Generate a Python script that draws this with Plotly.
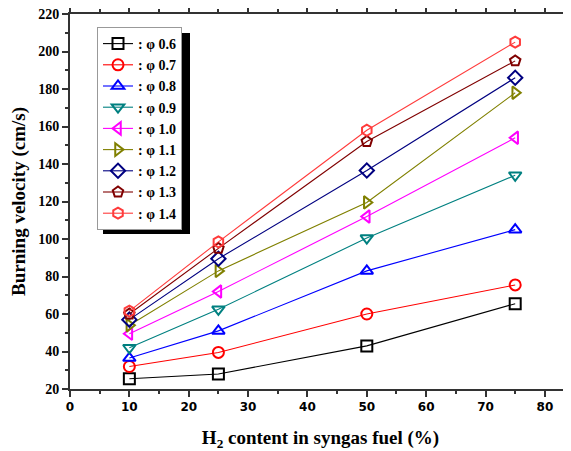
import plotly.graph_objects as go

x_vals = [10, 25, 50, 75]
phi_labels = ["0.6", "0.7", "0.8", "0.9", "1.0", "1.1", "1.2", "1.3", "1.4"]
v06 = [25.5, 28, 43, 65.5]
v07 = [32, 39.5, 60, 75.5]
v08 = [36.5, 51, 83, 105]
v09 = [42, 62.5, 100.5, 134]
v10 = [49.5, 72, 112, 154]
v11 = [54, 83, 119.5, 178]
v12 = [57, 89.5, 136.5, 186]
v13 = [60, 95, 152, 195]
v14 = [61.5, 98.5, 158, 205]
series = [v06, v07, v08, v09, v10, v11, v12, v13, v14]

colors = ["#000000", "#FF0000", "#0000FF", "#008080", "#FF00FF", "#808000", "#000080", "#800000", "#FF3B3B"]
symbols = ["square-open", "circle-open", "triangle-up-open", "triangle-down-open",
           "triangle-left-open", "triangle-right-open", "diamond-open", "pentagon-open", "hexagon-open"]

serif = "Liberation Serif, Times New Roman, serif"

fig = go.Figure()
for lab, ys, c, s in zip(phi_labels, series, colors, symbols):
    fig.add_trace(go.Scatter(
        x=x_vals, y=ys, mode="lines+markers", name=f"<b>: \u03c6 {lab}</b>",
        line=dict(color=c, width=1.1),
        marker=dict(symbol=s, size=11, color=c, line=dict(color=c, width=2)),
    ))

# page has an 8px body margin; figure is 563x443, plot area l=62, t=6, 501x375
def px_x(p):
    return (p - 62) / 501.0

def px_y(p):
    return (381 - p) / 375.0

# legend shadow
fig.add_shape(type="rect", xref="paper", yref="paper",
              x0=px_x(95), x1=px_x(182), y0=px_y(226), y1=px_y(25),
              fillcolor="black", line=dict(width=0), layer="above")

fig.update_layout(
    width=563, height=443,
    margin=dict(l=62, r=0, t=6, b=62, autoexpand=False),
    paper_bgcolor="white", plot_bgcolor="white",
    showlegend=True,
    legend=dict(x=px_x(89), y=px_y(19), xanchor="left", yanchor="top",
                bgcolor="white", bordercolor="#999999", borderwidth=1,
                font=dict(family=serif, size=14, color="black"),
                tracegroupgap=0, itemwidth=30),
    font=dict(family=serif, color="black"),
)
fig.update_xaxes(
    range=[0, 84.4], tick0=0, dtick=10, ticks="outside", ticklen=6, tickwidth=1.5,
    minor=dict(dtick=5, ticks="outside", ticklen=3, tickwidth=1.5, tickcolor="#333333"),
    showline=True, linecolor="#333333", linewidth=2, mirror="allticks",
    showgrid=False, zeroline=False, tickcolor="#333333", automargin=False,
    ticklabeloverflow="allow",
    tickfont=dict(family="DejaVu Sans", size=12, color="black", weight="bold"),
    title=dict(text="<b>H<sub>2</sub> content in syngas fuel (%)</b>",
               font=dict(family=serif, size=19, color="black"), standoff=18),
)
fig.update_yaxes(
    range=[20, 220], tick0=20, dtick=20, ticks="outside", ticklen=6, tickwidth=1.5,
    minor=dict(dtick=10, ticks="outside", ticklen=3, tickwidth=1.5, tickcolor="#333333"),
    showline=True, linecolor="#333333", linewidth=2, mirror="allticks",
    showgrid=False, zeroline=False, tickcolor="#333333", automargin=False,
    ticklabeloverflow="allow",
    tickfont=dict(family=serif, size=14, color="black", weight="bold"),
    title=dict(text="<b>Burning velocity (cm/s)</b>",
               font=dict(family=serif, size=19, color="black"), standoff=19),
)
fig.write_html("out.html")
